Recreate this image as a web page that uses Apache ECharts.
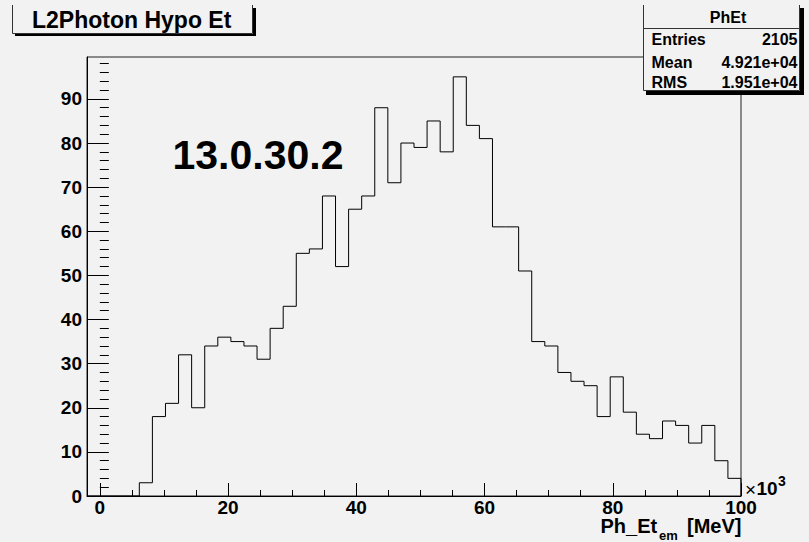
<!DOCTYPE html>
<html>
<head>
<meta charset="utf-8">
<script src="https://cdn.jsdelivr.net/npm/echarts@6/dist/echarts.min.js"></script>
<style>
  html, body { margin: 0; padding: 0; background: #f2f2f2; }
  #chart { width: 809px; height: 542px; }
</style>
</head>
<body>
<div id="chart"></div>
<script>
// Histogram range (x10^3 MeV) and per-bin counts, 50 equal bins
const histLow = -2;
const histHigh = 100;
const binCounts = [
  0, 0, 0, 0, 3, 18, 21, 32, 20, 34,
  36, 35, 34, 31, 38, 43, 55, 56, 68, 52,
  65, 68, 88, 71, 80, 79, 85, 78, 95, 84,
  81, 61, 61, 51, 35, 34, 28, 26, 25, 18,
  27, 19, 14, 13, 17, 16, 12, 16, 8, 4
];

// Axis ticks and labels
const xMajorTicks = [0, 20, 40, 60, 80, 100];
const xMinorTicks = [0, 5, 10, 15, 20, 25, 30, 35, 40, 45, 50, 55, 60, 65, 70, 75, 80, 85, 90, 95, 100];
const yMajorTicks = [0, 10, 20, 30, 40, 50, 60, 70, 80, 90];
const yMinorTicks = [0, 2, 4, 6, 8, 10, 12, 14, 16, 18, 20, 22, 24, 26, 28, 30, 32, 34, 36, 38,
  40, 42, 44, 46, 48, 50, 52, 54, 56, 58, 60, 62, 64, 66, 68, 70, 72, 74, 76, 78,
  80, 82, 84, 86, 88, 90, 92, 94, 96, 98];
const yMax = 99.5;

// Text content
const histTitle = 'L2Photon Hypo Et';
const statsName = 'PhEt';
const statsLabels = ['Entries', 'Mean', 'RMS'];
const statsValues = ['2105', '4.921e+04', '1.951e+04'];
const versionTag = '13.0.30.2';

// Step outline: one point per left bin edge, closed at the upper edge
const binWidth = (histHigh - histLow) / binCounts.length;
const stepPoints = binCounts.map((c, i) => [histLow + i * binWidth, c]);
stepPoints.push([histHigh, binCounts[binCounts.length - 1]]);
stepPoints.push([histHigh, 0]);

const BG = '#f2f2f2';
const FONT = '"Liberation Sans", Arial, sans-serif';

const chart = echarts.init(document.getElementById('chart'), null, { renderer: 'svg' });

const statsY = [39, 62.5, 82];

const graphics = [
  // title box with drop shadow
  { type: 'rect', z: 100, shape: { x: 15, y: 8, width: 241, height: 28 }, style: { fill: '#000' } },
  { type: 'rect', z: 101, shape: { x: 12, y: 5, width: 241, height: 29 }, style: { fill: BG } },
  { type: 'polyline', z: 102, shape: { points: [[12.5, 5], [12.5, 33.5], [252.5, 33.5], [252.5, 5]] },
    style: { stroke: '#333', lineWidth: 1, fill: null } },
  { type: 'text', z: 103, x: 32, y: 19.5,
    style: { text: histTitle, font: 'bold 23px ' + FONT, fill: '#000', align: 'left', verticalAlign: 'middle' } },

  // statistics box with drop shadow
  { type: 'rect', z: 100, shape: { x: 646, y: 8, width: 158, height: 87 }, style: { fill: '#000' } },
  { type: 'rect', z: 101, shape: { x: 643, y: 5, width: 157, height: 86 }, style: { fill: BG } },
  { type: 'polyline', z: 102, shape: { points: [[643.5, 5], [643.5, 90.5], [799.5, 90.5], [799.5, 5]] },
    style: { stroke: '#333', lineWidth: 1, fill: null } },
  { type: 'line', z: 102, shape: { x1: 643.5, y1: 28.5, x2: 799.5, y2: 28.5 }, style: { stroke: '#333', lineWidth: 1 } },
  { type: 'text', z: 103, x: 728, y: 17.5,
    style: { text: statsName, font: 'bold 16px ' + FONT, fill: '#000', align: 'center', verticalAlign: 'middle' } },

  // version tag inside the frame
  { type: 'text', z: 103, x: 172.5, y: 155,
    style: { text: versionTag, font: 'bold 41px ' + FONT, fill: '#000', align: 'left', verticalAlign: 'middle' } },

  // axis exponent
  { type: 'text', z: 103, x: 745, y: 489,
    style: { text: '\u00d7', font: '19px ' + FONT, fill: '#000', align: 'left', verticalAlign: 'middle' } },
  { type: 'text', z: 103, x: 756.5, y: 488,
    style: { text: '10', font: 'bold 19px ' + FONT, fill: '#000', align: 'left', verticalAlign: 'middle' } },
  { type: 'text', z: 103, x: 778, y: 480.5,
    style: { text: '3', font: 'bold 14px ' + FONT, fill: '#000', align: 'left', verticalAlign: 'middle' } },

  // x-axis title with subscript
  { type: 'text', z: 103, x: 600.5, y: 526,
    style: { text: 'Ph_Et', font: 'bold 20px ' + FONT, fill: '#000', align: 'left', verticalAlign: 'middle' } },
  { type: 'text', z: 103, x: 659, y: 535.5,
    style: { text: 'em', font: 'bold 13px ' + FONT, fill: '#000', align: 'left', verticalAlign: 'middle' } },
  { type: 'text', z: 103, x: 741.5, y: 526,
    style: { text: '[MeV]', font: 'bold 20px ' + FONT, fill: '#000', align: 'right', verticalAlign: 'middle' } }
];

statsLabels.forEach((lab, i) => {
  graphics.push({ type: 'text', z: 103, x: 651.5, y: statsY[i],
    style: { text: lab, font: 'bold 16px ' + FONT, fill: '#000', align: 'left', verticalAlign: 'middle' } });
  graphics.push({ type: 'text', z: 103, x: 797.5, y: statsY[i],
    style: { text: statsValues[i], font: 'bold 16px ' + FONT, fill: '#000', align: 'right', verticalAlign: 'middle' } });
});

const labelStyle = { fontFamily: FONT, fontWeight: 'bold', fontSize: 19, color: '#000' };

chart.setOption({
  backgroundColor: BG,
  animation: false,
  grid: {
    left: 87, right: 68, top: 57, bottom: 46,
    show: true, borderColor: '#222', borderWidth: 1, backgroundColor: 'transparent'
  },
  xAxis: [
    {
      type: 'value', min: histLow, max: histHigh, position: 'bottom',
      axisLine: { show: true, onZero: false, lineStyle: { color: '#000', width: 1 } },
      axisTick: { show: true, inside: true, length: 13, customValues: xMajorTicks, lineStyle: { color: '#000' } },
      axisLabel: Object.assign({ customValues: xMajorTicks, margin: 2 }, labelStyle),
      splitLine: { show: false }
    },
    {
      type: 'value', min: histLow, max: histHigh, position: 'bottom',
      axisLine: { show: false },
      axisTick: { show: true, inside: true, length: 6, customValues: xMinorTicks, lineStyle: { color: '#000' } },
      axisLabel: { show: false },
      splitLine: { show: false }
    }
  ],
  yAxis: [
    {
      type: 'value', min: 0, max: yMax, position: 'left',
      axisLine: { show: true, onZero: false, lineStyle: { color: '#000', width: 1 } },
      axisTick: { show: true, inside: true, length: 19, customValues: yMajorTicks, lineStyle: { color: '#000' } },
      axisLabel: Object.assign({ customValues: yMajorTicks, margin: 5 }, labelStyle),
      splitLine: { show: false }
    },
    {
      type: 'value', min: 0, max: yMax, position: 'left',
      axisLine: { show: false },
      axisTick: { show: true, inside: true, length: 9, customValues: yMinorTicks, lineStyle: { color: '#000' } },
      axisLabel: { show: false },
      splitLine: { show: false }
    }
  ],
  series: [
    {
      type: 'line',
      xAxisIndex: 0,
      yAxisIndex: 0,
      step: 'end',
      data: stepPoints,
      symbol: 'none',
      lineStyle: { color: '#000', width: 1 },
      silent: true
    }
  ],
  graphic: { elements: graphics }
});
</script>
</body>
</html>
